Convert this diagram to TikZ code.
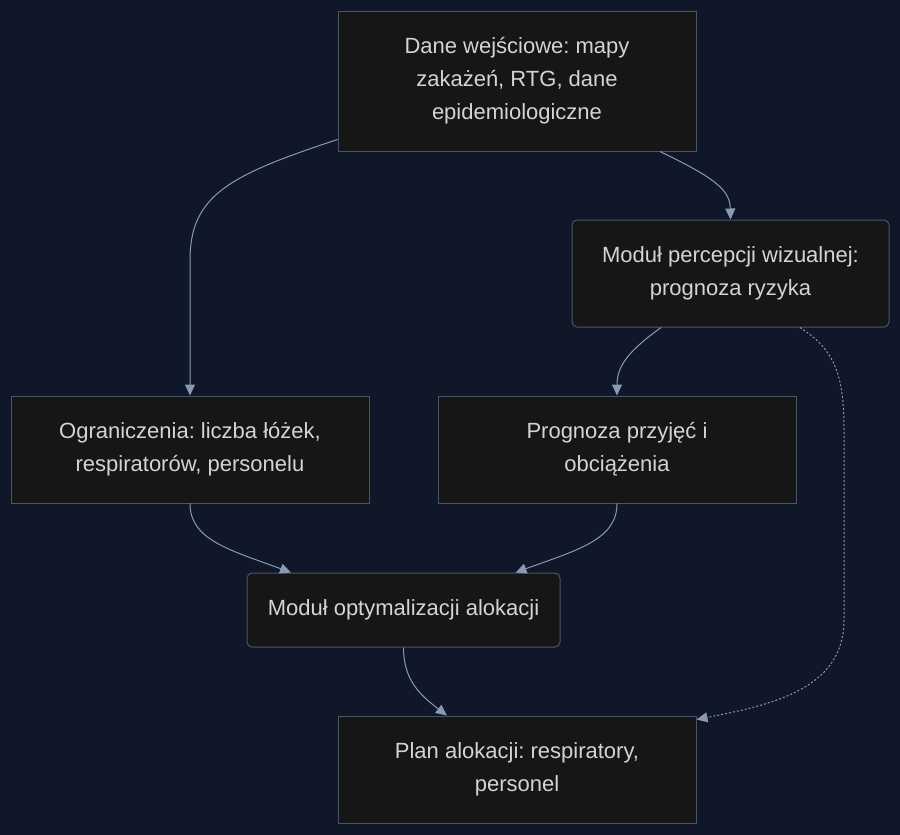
\documentclass[tikz,border=0pt]{standalone}
\usepackage{fontspec}
\setmainfont{Liberation Sans}
\usetikzlibrary{arrows.meta}
\definecolor{bgcol}{HTML}{0F1729}
\definecolor{boxfill}{HTML}{161616}
\definecolor{boxline}{HTML}{4A5568}
\definecolor{linkcol}{HTML}{8A9AB2}
\definecolor{txtcol}{HTML}{D4D4D4}
\frenchspacing

\begin{document}
\begin{tikzpicture}[x=1pt, y=-1pt,
    box/.style={draw=boxline, fill=boxfill, line width=1pt, text=txtcol,
        font=\fontsize{22}{33}\selectfont, align=center, inner sep=0pt},
    rbox/.style={box, rounded corners=5pt},
    link/.style={draw=linkcol, line width=1pt, -{Triangle[length=11pt,width=10pt]}}]
    \fill[bgcol] (0,0) rectangle (900,835);
    \node[box, minimum width=358pt, minimum height=140pt] (dane) at (517,81) {Dane wejściowe: mapy\\zakażeń, RTG, dane\\epidemiologiczne};
    \node[rbox, minimum width=317pt, minimum height=107pt] (perc) at (730.5,273.5) {Moduł percepcji wizualnej:\\prognoza ryzyka};
    \node[box, minimum width=358pt, minimum height=107pt] (ogr) at (190,449.5) {Ograniczenia: liczba łóżek,\\respiratorów, personelu};
    \node[box, minimum width=358pt, minimum height=107pt] (progn) at (617,449.5) {Prognoza przyjęć i\\obciążenia};
    \node[rbox, minimum width=313pt, minimum height=74pt] (opt) at (403.5,610) {Moduł optymalizacji alokacji};
    \node[box, minimum width=358pt, minimum height=107pt] (plan) at (517,769.5) {Plan alokacji: respiratory,\\personel};
    % connectors
    \draw[link] ([yshift=12pt]dane.south west) .. controls (230,175) and (190,195) .. (190,260) -- (ogr.north);
    \draw[link] ([xshift=143pt]dane.south) .. controls (715,178) and (730,190) .. (perc.north);
    \draw[link] ([xshift=-69.5pt]perc.south) .. controls (630,350) and (617,365) .. (progn.north);
    \draw[link, dash pattern=on 2pt off 2pt] ([xshift=69.5pt]perc.south) .. controls (835,350) and (844,375) .. (844,430) -- (844,620) .. controls (844,690) and (770,705) .. ([yshift=-4pt]plan.north east);
    \draw[link] (ogr.south) .. controls (190,540) and (230,550) .. ([xshift=-112.5pt]opt.north);
    \draw[link] (progn.south) .. controls (617,540) and (577,550) .. ([xshift=112pt]opt.north);
    \draw[link] (opt.south) .. controls (403.5,680) and (420,695) .. ([xshift=-70pt]plan.north);
\end{tikzpicture}
\end{document}
